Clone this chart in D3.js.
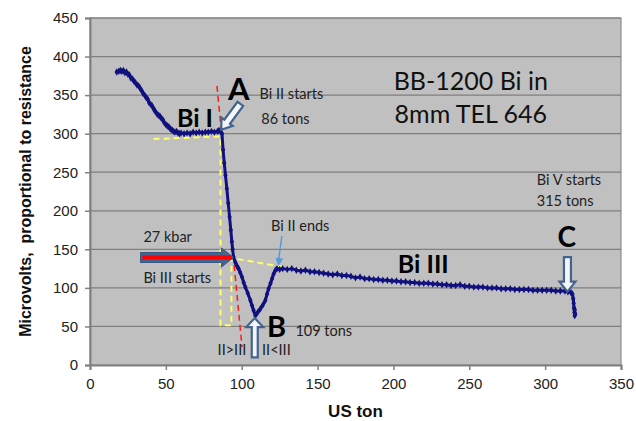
<!DOCTYPE html>
<html>
<head>
<meta charset="utf-8">
<script src="https://cdn.jsdelivr.net/npm/d3@7"></script>
<style>
  html, body { margin: 0; padding: 0; background: #fff; }
  svg { display: block; }
</style>
</head>
<body>
<svg id="chart" width="636" height="421"></svg>
<script>
// Press load (US ton) and the matching signal (microvolts)
const tons = [
  17.6, 19, 20, 21, 22, 23, 24, 25, 26, 27, 28, 29, 30, 31, 32, 33, 34, 35, 36, 37,
  38, 39, 40, 41, 42, 43, 44, 45, 46, 47, 48, 49, 50, 51, 52, 53, 54, 55, 56, 57,
  58, 59, 60, 62, 64, 66, 68, 70, 72, 74, 76, 78, 80, 82, 84, 85, 86,
  87, 87.7, 88.5, 89.3, 90.2, 91.1, 92, 92.8, 93.5, 94, 94.6, 95.8, 97, 97.9, 99,
  100.2, 101.3, 102.4, 104, 105.7, 106.8, 107.8, 109, 110.5, 112.3, 114, 115.6,
  116.7, 117.7, 119, 120, 121, 122.2, 123.3,
  125, 127, 130, 133, 136, 139, 142, 145, 148, 151, 154, 157, 160, 163, 166, 169,
  172, 175, 178, 181, 184, 187, 190, 193, 196, 199, 202, 205, 208, 211, 214, 217,
  220, 223, 226, 229, 232, 235, 238, 241, 244, 247, 250, 253, 256, 259, 262, 265,
  268, 271, 274, 277, 280, 283, 286, 289, 292, 295, 298, 301, 304, 307, 310, 313,
  315, 317, 318, 318.5, 318.8, 319, 319.3, 319.5, 319.8, 319.5
];
const microvolts = [
  380, 381, 382, 381, 382, 379, 380, 377, 376, 372, 371, 368, 366, 363, 362, 359, 356, 352, 350, 347,
  345, 340, 338, 336, 332, 329, 326, 324, 323, 320, 318, 314, 312, 310, 309, 306, 305, 303, 302, 303,
  301, 300, 301, 300, 301, 300, 302, 301, 302, 301, 302, 302, 303, 302, 303, 304, 303,
  300, 279, 262, 246, 229, 210, 192, 175, 160, 150, 140, 133, 128, 125, 120,
  114, 107, 101, 93, 84, 77, 71, 64, 68, 73, 78, 84,
  92, 99, 106, 112, 118, 123, 125,
  124, 125, 124, 125, 123, 122, 123, 121, 121, 120, 119, 118, 117, 118, 116, 116,
  115, 113, 114, 112, 112, 111, 111, 110, 110, 109, 109, 108, 108, 107, 107, 106,
  106, 106, 105, 105, 104, 104, 103, 103, 104, 102, 102, 101, 101, 101, 100, 100,
  100, 99, 99, 99, 98, 98, 98, 98, 97, 97, 97, 97, 97, 96, 96, 96,
  95, 94, 92, 86, 80, 74, 68, 64, 66, 72
];

const xTicks = [0, 50, 100, 150, 200, 250, 300, 350];
const yTicks = [0, 50, 100, 150, 200, 250, 300, 350, 400, 450];

const points = tons.map((t, i) => ({ t, v: microvolts[i] }));

const svg = d3.select("#chart");
const x = d3.scaleLinear().domain([0, 350]).range([90, 621]);
const y = d3.scaleLinear().domain([0, 450]).range([365, 18]);

const axisFont = "'Liberation Sans', Arial, sans-serif";
const noteFont = "Lato, 'Open Sans', sans-serif";

// plot area
svg.append("rect")
  .attr("x", x(0)).attr("y", y(450))
  .attr("width", x(350) - x(0)).attr("height", y(0) - y(450))
  .attr("fill", "#c0c0c0")
  .attr("stroke", "#8c8c8c").attr("stroke-width", 1.2);

// horizontal gridlines
svg.append("g").selectAll("line")
  .data(yTicks.filter(d => d > 0))
  .join("line")
  .attr("x1", x(0)).attr("x2", x(350))
  .attr("y1", d => y(d)).attr("y2", d => y(d))
  .attr("stroke", "#7f7f7f").attr("stroke-width", 1.2);

// axes
const yAxis = svg.append("g")
  .attr("transform", `translate(${x(0)},0)`)
  .call(d3.axisLeft(y).tickValues(yTicks).tickSize(5).tickPadding(7).tickFormat(d3.format("d")));
const xAxis = svg.append("g")
  .attr("transform", `translate(0,${y(0)})`)
  .call(d3.axisBottom(x).tickValues(xTicks).tickSize(5).tickPadding(8).tickFormat(d3.format("d")));
[yAxis, xAxis].forEach(g => {
  g.select(".domain").attr("stroke", "#808080").attr("stroke-width", 2);
  g.selectAll(".tick line").attr("stroke", "#808080").attr("stroke-width", 1.5);
  g.selectAll(".tick text").attr("font-family", axisFont).attr("font-size", 15).attr("fill", "#222");
});

// axis titles
svg.append("text")
  .attr("x", (x(0) + x(350)) / 2).attr("y", 417)
  .attr("text-anchor", "middle")
  .attr("font-family", axisFont).attr("font-size", 17).attr("font-weight", "bold")
  .attr("fill", "#111")
  .text("US ton");
svg.append("text")
  .attr("transform", `translate(31,${(y(0) + y(450)) / 2}) rotate(-90)`)
  .attr("text-anchor", "middle")
  .attr("font-family", axisFont).attr("font-size", 16).attr("font-weight", "bold")
  .attr("fill", "#111")
  .attr("xml:space", "preserve")
  .style("white-space", "pre")
  .text("Microvolts,  proportional to resistance");

// guide lines
const dash = "6,4";
const guide = svg.append("g").attr("fill", "none");
guide.append("line")
  .attr("x1", x(83.7)).attr("y1", y(362)).attr("x2", x(100.2)).attr("y2", y(23.5))
  .attr("stroke", "#ff1a1a").attr("stroke-width", 1.5).attr("stroke-dasharray", dash);
guide.append("path")
  .attr("d", d3.line()([
    [x(41.9), y(293)], [x(86), y(296.4)], [x(86), y(51.7)], [x(93.2), y(51.7)],
    [x(93.2), y(138.7)], [x(140), y(123)]
  ]))
  .attr("stroke", "#ffff66").attr("stroke-width", 2).attr("stroke-dasharray", dash);

// measured curve
svg.append("path")
  .datum(points)
  .attr("fill", "none")
  .attr("stroke", "#10107e").attr("stroke-width", 3)
  .attr("stroke-linejoin", "round")
  .attr("d", d3.line().x(d => x(d.t)).y(d => y(d.v)));
svg.append("g").selectAll("path")
  .data(points)
  .join("path")
  .attr("transform", d => `translate(${x(d.t)},${y(d.v)})`)
  .attr("d", d3.symbol(d3.symbolDiamond, 16))
  .attr("fill", "#10107e");

// block arrow helper: polygon from tail to tip
function blockArrow(x1, y1, x2, y2, shaftW, headW, headL) {
  const dx = x2 - x1, dy = y2 - y1, len = Math.hypot(dx, dy);
  const ux = dx / len, uy = dy / len, nx = -uy, ny = ux;
  const bx = x2 - ux * headL, by = y2 - uy * headL;
  const p = [
    [x1 + nx * shaftW / 2, y1 + ny * shaftW / 2],
    [bx + nx * shaftW / 2, by + ny * shaftW / 2],
    [bx + nx * headW / 2, by + ny * headW / 2],
    [x2, y2],
    [bx - nx * headW / 2, by - ny * headW / 2],
    [bx - nx * shaftW / 2, by - ny * shaftW / 2],
    [x1 - nx * shaftW / 2, y1 - ny * shaftW / 2]
  ];
  return "M" + p.map(q => q.join(",")).join("L") + "Z";
}

const arrowBlue = "#44638f";
// hollow arrows at A, B, C
[
  [99.1, 338.7, 86.5, 305, 7, 14, 10],
  [108.6, 10, 108.6, 60.8, 6, 17, 9],
  [314.7, 140, 314.7, 95.2, 7, 16, 10]
].forEach(a => {
  svg.append("path")
    .attr("d", blockArrow(x(a[0]), y(a[1]), x(a[2]), y(a[3]), a[4], a[5], a[6]))
    .attr("fill", "#f4f6fa").attr("stroke", arrowBlue).attr("stroke-width", 2.2)
    .attr("stroke-linejoin", "miter");
});

// 27 kbar arrow with red core
svg.append("path")
  .attr("d", blockArrow(x(33.3), y(139.4), x(94.6), y(139.4), 10, 19, 12))
  .attr("fill", arrowBlue).attr("stroke", "#3a5883").attr("stroke-width", 1);
svg.append("line")
  .attr("x1", x(34.5)).attr("y1", y(139.4)).attr("x2", x(93.5)).attr("y2", y(139.4))
  .attr("stroke", "#ff0000").attr("stroke-width", 4);

// thin arrow pointing to the end of Bi II
const thin = "#5b9bd5";
const t1 = [x(126.5), y(167.3)], t2 = [x(124.2), y(128.3)];
svg.append("line")
  .attr("x1", t1[0]).attr("y1", t1[1]).attr("x2", t2[0]).attr("y2", t2[1] - 5)
  .attr("stroke", thin).attr("stroke-width", 1.5);
svg.append("path")
  .attr("d", blockArrow(t1[0], t1[1], t2[0], t2[1], 0.1, 8, 8))
  .attr("fill", thin);

// annotations
const small = 14.5;
const notes = [
  { t: "A", at: [90.9, 343.9], size: 31, bold: true },
  { t: "Bi I", at: [57.3, 309.2], size: 25, bold: true },
  { t: "Bi II starts", at: [111.8, 345.6], size: small },
  { t: "86 tons", at: [112.9, 312.7], size: small },
  { t: "Bi V starts", at: [294.5, 233.1], size: small },
  { t: "315 tons", at: [294.5, 206.2], size: small },
  { t: "27 kbar", at: [35.2, 159], size: small },
  { t: "Bi III starts", at: [35.2, 106.6], size: small },
  { t: "Bi II ends", at: [119.3, 174], size: small },
  { t: "B", at: [116.7, 36.4], size: 29, bold: true },
  { t: "109 tons", at: [135.4, 37.4], size: small },
  { t: "II>III", at: [84.1, 12.7], size: small },
  { t: "II<III", at: [113.4, 12.7], size: small },
  { t: "Bi III", at: [202.9, 119.6], size: 25, bold: true },
  { t: "C", at: [308.2, 153.4], size: 28, bold: true }
];
svg.append("g").selectAll("text")
  .data(notes)
  .join("text")
  .attr("x", d => x(d.at[0])).attr("y", d => y(d.at[1]))
  .attr("font-family", noteFont)
  .attr("font-size", d => d.size)
  .attr("font-weight", d => d.bold ? "bold" : "normal")
  .attr("fill", d => d.bold ? "#000" : "#222")
  .text(d => d.t);

// title block
const titleLines = ["BB-1200 Bi in", "8mm TEL 646"];
svg.append("g").selectAll("text")
  .data(titleLines)
  .join("text")
  .attr("x", x(251))
  .attr("y", (d, i) => y(i === 0 ? 357 : 313.6))
  .attr("text-anchor", "middle")
  .attr("font-family", noteFont).attr("font-size", 25)
  .attr("fill", "#111")
  .text(d => d);
</script>
</body>
</html>
